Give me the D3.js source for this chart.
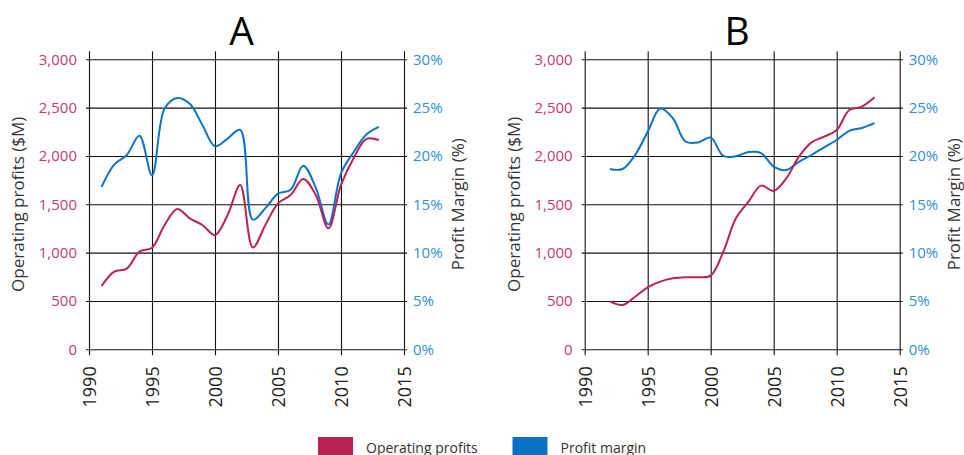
<!DOCTYPE html>
<html>
<head>
<meta charset="utf-8">
<script src="https://cdn.jsdelivr.net/npm/d3@7"></script>
<style>
  html, body { margin: 0; padding: 0; background: #fff; }
  svg { display: block; font-family: "Open Sans", "Noto Sans", sans-serif; }
</style>
</head>
<body>
<svg id="chart" width="964" height="455"></svg>
<script>
// ---- data ----
const yearsA = [1991,1992,1993,1994,1995,1996,1997,1998,1999,2000,2001,2002,2003,2004,2005,2006,2007,2008,2009,2010,2011,2012,2013];
const profitsA = [655,803,835,1010,1051,1286,1451,1355,1286,1182,1389,1700,1053,1286,1510,1596,1762,1596,1251,1700,1976,2175,2165];
const marginA = [16.8,19.1,20.1,22.1,18.0,24.9,26.0,25.4,23.2,21.0,21.8,22.7,13.4,14.6,16.1,16.5,19.0,16.7,12.9,18.2,20.4,22.2,23.0];

const yearsB = [1992,1993,1994,1995,1996,1997,1998,1999,2000,2001,2002,2003,2004,2005,2006,2007,2008,2009,2010,2011,2012,2013];
const profitsB = [495,458,544,641,700,734,745,745,762,1010,1355,1527,1693,1638,1769,1993,2141,2200,2269,2476,2510,2607];
const marginB = [18.65,18.65,20.1,22.5,24.9,23.9,21.5,21.4,21.9,20.0,19.97,20.4,20.3,18.9,18.55,19.4,20.1,20.9,21.65,22.6,22.9,23.4];

const xTicks = [1990,1995,2000,2005,2010,2015];
const leftTicks = [0,500,1000,1500,2000,2500,3000];
const rightTicks = [0,5,10,15,20,25,30];
const panelTitles = ["A","B"];
const legendLabels = ["Operating profits","Profit margin"];

// ---- styles ----
const RED = "#bb2255", BLUE = "#0b73c8";
const RED_TXT = "#c93a6b", BLUE_TXT = "#2f8fe0";
const GRID = "#111";

const svg = d3.select("#chart");

function panel(left, title, years, profits, margin) {
  const x0 = left, x1 = left + 315;
  const yTop = 59.3, yBot = 349.3;
  const x = d3.scaleLinear().domain([1990, 2015]).range([x0, x1]);
  const y = d3.scaleLinear().domain([0, 3000]).range([yBot, yTop]);
  const yr = d3.scaleLinear().domain([0, 30]).range([yBot, yTop]);
  const g = svg.append("g");

  // vertical grid (x axis)
  const ax = g.append("g").attr("transform", `translate(0,${yBot})`)
    .call(d3.axisBottom(x).tickValues(xTicks).tickSizeInner(-(yBot - yTop + 8)).tickSizeOuter(0).tickFormat(""));
  ax.select(".domain").remove();
  ax.selectAll(".tick line").attr("stroke", GRID).attr("stroke-width", 1.1).attr("y2", -(yBot - yTop + 8)).attr("y1", 6);

  // x labels rotated
  const axl = g.append("g").attr("transform", `translate(0,${yBot})`)
    .call(d3.axisBottom(x).tickValues(xTicks).tickSize(0).tickFormat(d3.format("d")));
  axl.select(".domain").remove();
  axl.selectAll("text")
    .attr("transform", "rotate(-90)")
    .attr("x", -17).attr("y", 0).attr("dy", "0.35em")
    .attr("text-anchor", "end")
    .attr("font-size", 18).attr("fill", "#222")
    .attr("font-family", "'Open Sans', sans-serif");

  // horizontal grid + left labels
  const ay = g.append("g").attr("transform", `translate(${x0 - 3},0)`)
    .call(d3.axisLeft(y).tickValues(leftTicks).tickSizeInner(-(x1 - x0 + 6)).tickSizeOuter(0).tickPadding(9).tickFormat(d3.format(",")));
  ay.select(".domain").remove();
  ay.selectAll(".tick line").attr("stroke", GRID).attr("stroke-width", 1.1);
  ay.selectAll("text").attr("x", -9).attr("fill", RED_TXT).attr("font-size", 15)
    .attr("font-family", "'Open Sans', sans-serif");

  // right labels
  const ar = g.append("g").attr("transform", `translate(${x1},0)`)
    .call(d3.axisRight(yr).tickValues(rightTicks).tickSize(0).tickPadding(9).tickFormat(d => d + "%"));
  ar.select(".domain").remove();
  ar.selectAll("text").attr("fill", BLUE_TXT).attr("font-size", 15)
    .attr("font-family", "'Open Sans', sans-serif");

  // lines
  const lineP = d3.line().x((d, i) => x(years[i])).y(d => y(d)).curve(d3.curveCatmullRom.alpha(0.5));
  const lineM = d3.line().x((d, i) => x(years[i])).y(d => yr(d)).curve(d3.curveCatmullRom.alpha(0.5));
  g.append("path").datum(margin).attr("d", lineM).attr("fill", "none").attr("stroke", BLUE).attr("stroke-width", 2);
  g.append("path").datum(profits).attr("d", lineP).attr("fill", "none").attr("stroke", RED).attr("stroke-width", 2);

  // title
  g.append("text").attr("x", (x0 + x1) / 2 - 5).attr("y", 45).attr("text-anchor", "middle")
    .attr("font-size", 39).attr("fill", "#000").text(title);

  // axis titles
  g.append("text").attr("transform", `translate(${x0 - 65},${(yTop + yBot) / 2}) rotate(-90)`)
    .attr("text-anchor", "middle").attr("font-size", 17).attr("fill", "#333")
    .text("Operating profits ($M)");
  g.append("text").attr("transform", `translate(${x1 + 60},${(yTop + yBot) / 2}) rotate(-90)`)
    .attr("text-anchor", "middle").attr("font-size", 17).attr("fill", "#333")
    .text("Profit Margin (%)");
}

panel(89, panelTitles[0], yearsA, profitsA, marginA);
panel(584.7, panelTitles[1], yearsB, profitsB, marginB);

// legend
const leg = svg.append("g");
const legItems = [{label: legendLabels[0], color: "#b92253", x: 318}, {label: legendLabels[1], color: "#0a72c6", x: 512.5}];
legItems.forEach(it => {
  leg.append("rect").attr("x", it.x).attr("y", 437).attr("width", 35).attr("height", 20).attr("fill", it.color);
  leg.append("text").attr("x", it.x + 48).attr("y", 452.5).attr("font-size", 14).attr("fill", "#333").text(it.label);
});
</script>
</body>
</html>
